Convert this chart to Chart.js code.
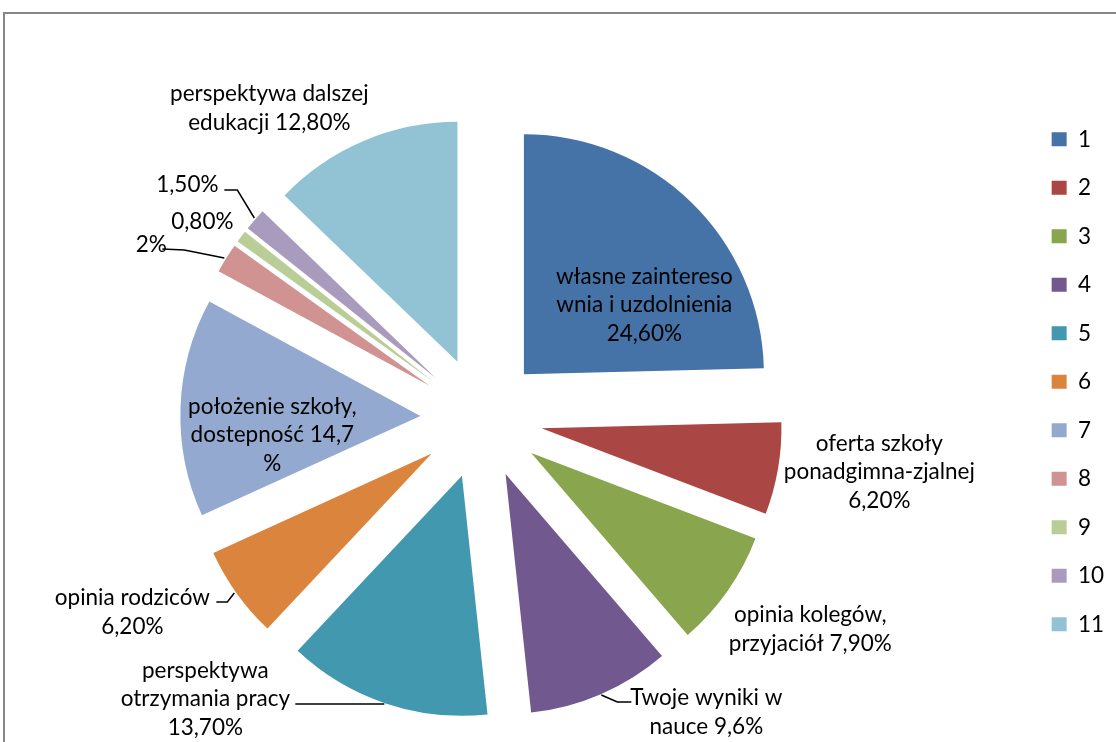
<!DOCTYPE html>
<html>
<head>
<meta charset="utf-8">
<script src="https://cdn.jsdelivr.net/npm/chart.js@4.4.1/dist/chart.umd.min.js"></script>
<style>
  html, body { margin: 0; padding: 0; background: #fff; overflow: hidden; }
  body { width: 1116px; height: 742px; position: relative; }
  #frame { position: absolute; left: 3px; top: 12px; width: 1200px; height: 800px; border: 2px solid #878787; box-sizing: border-box; }
  #wrap { position: absolute; left: -100px; top: 0; }
</style>
</head>
<body>
<div id="frame"></div>
<div id="wrap"><canvas id="pie" width="1216" height="742"></canvas></div>
<script>
// dane
const legendNames = ['1', '2', '3', '4', '5', '6', '7', '8', '9', '10', '11'];
const shares = [24.6, 6.2, 7.9, 9.6, 13.7, 6.2, 14.7, 2, 0.8, 1.5, 12.8];
const sliceTexts = [
  ['własne zaintereso', 'wnia i uzdolnienia', '24,60%'],
  ['oferta szkoły', 'ponadgimna-zjalnej', '6,20%'],
  ['opinia kolegów,', 'przyjaciół 7,90%'],
  ['Twoje wyniki w', 'nauce 9,6%'],
  ['perspektywa', 'otrzymania pracy', '13,70%'],
  ['opinia rodziców', '6,20%'],
  ['położenie szkoły,', 'dostepność 14,7', '%'],
  ['2%'],
  ['0,80%'],
  ['1,50%'],
  ['perspektywa dalszej', 'edukacji 12,80%']
];
const sliceColors = ['#4572A7', '#AA4643', '#89A54E', '#71588F', '#4198AF', '#DB843D',
  '#93A9CF', '#D19392', '#B9CD96', '#A99BBD', '#92C3D4'];

// rozmieszczenie etykiet (px od środka koła przy promieniu 240)
const labelSpots = [[163, -113], [398, 54], [329, 211], [225, 294], [-276, 281], [-349, 194],
  [-209, 17], [-330, -173], [-279, -196], [-294, -233], [-212, -310]];
const leaders = {
  3: [[150, 284], [136, 284], [120, 277]],
  4: [[-186, 286], [-97, 286]],
  5: [[-265, 184], [-254, 184], [-247, 175]],
  7: [[-319, -169], [-297, -168], [-257, -160]],
  9: [[-257, -228], [-244, -228], [-227, -200]]
};
const PIE_R = 240;
const EXPLODE = 61;
const FONT = 'Lato, "Open Sans", sans-serif';
const FONT_SIZE = 22.5;

// rozsunięcie kawałków
const explodePlugin = {
  id: 'explode',
  afterDatasetUpdate(chart, args) {
    const meta = args.meta;
    const area = chart.chartArea;
    const cx = (area.left + area.right) / 2;
    const cy = (area.top + area.bottom) / 2;
    meta.data.forEach((arc) => {
      const mid = (arc.startAngle + arc.endAngle) / 2;
      arc.x = cx + Math.cos(mid) * EXPLODE;
      arc.y = cy + Math.sin(mid) * EXPLODE;
    });
  }
};

// etykiety danych z liniami
const labelPlugin = {
  id: 'sliceLabels',
  afterDatasetsDraw(chart) {
    const ctx = chart.ctx;
    const area = chart.chartArea;
    const cx = (area.left + area.right) / 2;
    const cy = (area.top + area.bottom) / 2;
    const k = chart.getDatasetMeta(0).controller.outerRadius / PIE_R;
    ctx.save();
    ctx.strokeStyle = '#000';
    ctx.lineWidth = 1.5;
    Object.keys(leaders).forEach((i) => {
      const pts = leaders[i];
      ctx.beginPath();
      pts.forEach((p, j) => {
        const x = cx + p[0] * k, y = cy + p[1] * k;
        if (j === 0) ctx.moveTo(x, y); else ctx.lineTo(x, y);
      });
      ctx.stroke();
    });
    ctx.fillStyle = '#000';
    ctx.font = FONT_SIZE + 'px ' + FONT;
    ctx.textAlign = 'center';
    ctx.textBaseline = 'middle';
    const lh = 28.5;
    sliceTexts.forEach((lines, i) => {
      const x = cx + labelSpots[i][0] * k;
      const y0 = cy + labelSpots[i][1] * k - (lines.length - 1) * lh / 2;
      lines.forEach((t, j) => ctx.fillText(t, x, y0 + j * lh));
    });
    ctx.restore();
  }
};

new Chart(document.getElementById('pie'), {
  type: 'pie',
  data: {
    labels: legendNames,
    datasets: [{
      data: shares,
      backgroundColor: sliceColors,
      borderWidth: 0,
      clip: false
    }]
  },
  options: {
    responsive: false,
    animation: false,
    radius: PIE_R,
    layout: { padding: { left: 37, right: 2, top: 102, bottom: 8 } },
    plugins: {
      tooltip: { enabled: false },
      legend: {
        position: 'right',
        align: 'start',
        labels: {
          boxWidth: 15,
          boxHeight: 14,
          padding: 26,
          color: '#000',
          font: { family: FONT, size: FONT_SIZE }
        }
      }
    }
  },
  plugins: [explodePlugin, labelPlugin]
});
</script>
</body>
</html>
